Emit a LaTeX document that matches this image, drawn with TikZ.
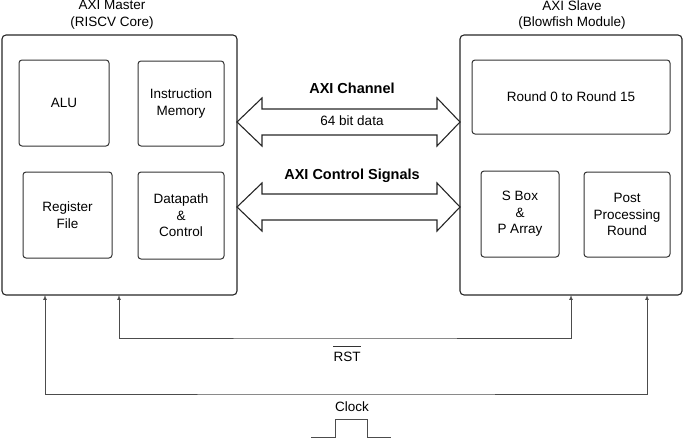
\documentclass[tikz,border=0pt]{standalone}
\usepackage{fontspec}
\setmainfont{Liberation Sans}
\usepackage{tikz}
\usetikzlibrary{arrows, positioning, calc}

\begin{document}
\begin{tikzpicture}[x=1pt, y=-1pt,
    block/.style={rectangle, draw=black!85, line width=1.1pt, rounded corners=4pt, outer sep=0pt},
    part/.style={rectangle, draw=black!80, line width=1pt, rounded corners=3pt, align=center, font=\fontsize{13.5}{16.5}\selectfont},
    lbl/.style={align=center, font=\fontsize{13.5}{16.5}\selectfont},
    sig/.style={draw=black!70, line width=0.7pt, >=latex},
    bus/.style={draw=black!85, line width=1.1pt, line join=miter}
]
\useasboundingbox (0,0) rectangle (685,439);
% master and slave
\node[block, minimum width=235pt, minimum height=260pt] (master) at (119.5,165) {};
\node[block, minimum width=222pt, minimum height=260pt] (slave) at (571,165) {};
\node[lbl] (mtitle) at (112,15) {AXI Master\\(RISCV Core)};
\node[lbl] (stitle) at (572,15) {AXI Slave\\(Blowfish Module)};
% inside master
\node[part, minimum width=90pt, minimum height=86pt] (alu) at (64,103) {ALU};
\node[part, minimum width=86pt, minimum height=85pt] (imem) at (181,103.5) {Instruction\\Memory};
\node[part, minimum width=89pt, minimum height=86pt] (regf) at (67.5,215) {Register\\File};
\node[part, minimum width=86pt, minimum height=87pt] (dpath) at (181,215.5) {Datapath\\\&\\Control};
% inside slave
\node[part, minimum width=198pt, minimum height=74pt] (rounds) at (571,97) {Round 0 to Round 15};
\node[part, minimum width=78pt, minimum height=86pt] (sbox) at (520,214) {S Box\\\&\\P Array};
\node[part, minimum width=86pt, minimum height=85pt] (post) at (627,214.5) {Post\\Processing\\Round};
% AXI buses
\coordinate (chan) at (348.5,122);
\coordinate (ctrl) at (348.5,207);
\foreach \bus in {chan,ctrl} {
  \draw[bus] (master.east |- \bus) -- ++(25,-24) -- ++(0,11)
    -- ($(slave.west |- \bus)+(-23,-13)$) -- ++(0,-11) -- (slave.west |- \bus)
    -- ++(-23,24) -- ++(0,-11) -- ($(master.east |- \bus)+(25,13)$) -- ++(0,11) -- cycle;
}
\node[lbl, font=\bfseries\fontsize{14.5}{17}\selectfont] (chanlbl) at (352,88) {AXI Channel};
\node[lbl] (datalbl) at (352,121) {64 bit data};
\node[lbl, font=\bfseries\fontsize{14.5}{17}\selectfont] (ctrllbl) at (352,176) {AXI Control Signals};
% reset and clock
\coordinate (rstbus) at (345,338);
\coordinate (clkbus) at (346,394);
\draw[sig, <->] ([xshift=117pt]master.south west) |- (rstbus) -| ([xshift=-111pt]slave.south east);
\draw[sig, <->] ([xshift=43pt]master.south west) |- (clkbus) -| ([xshift=-35pt]slave.south east);
\node[lbl, inner sep=0pt] (rst) at (347,357) {RST};
\draw[black!80, line width=0.7pt] ($(rst.north west)+(0,-6)$) -- ($(rst.north east)+(0,-6)$);
\node[lbl] (clk) at (352,407) {Clock};
\draw[sig] (311,437) -- (335,437) -- (335,419) -- (367,419) -- (367,437) -- (391,437);
\end{tikzpicture}
\end{document}
